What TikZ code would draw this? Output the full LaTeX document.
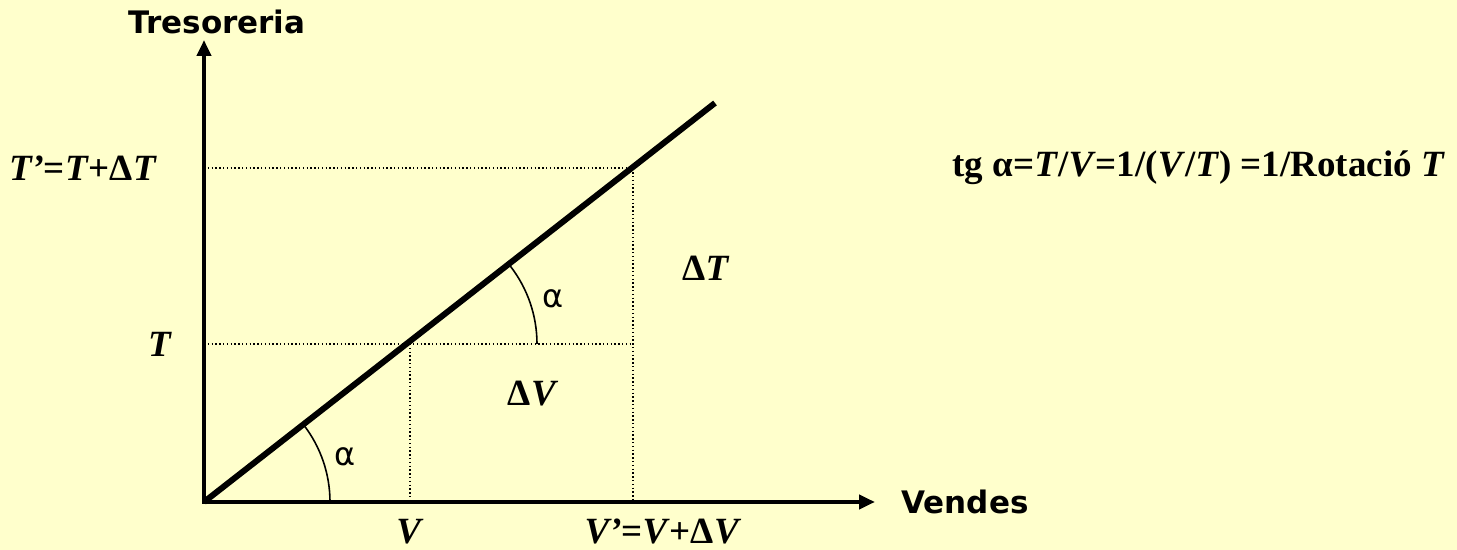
\documentclass[tikz,border=0pt]{standalone}
\usepackage{fontspec}
\setmainfont{Liberation Serif}
\newfontfamily\axisfont{DejaVu Sans}
\usepackage{xcolor}
\usepackage{tikz}
\usetikzlibrary{arrows.meta, calc}
\definecolor{ChartCream}{RGB}{255, 255, 204}
\definecolor{ChartInk}{RGB}{0, 0, 0}
\tikzset{
  axisline/.style={ChartInk, line width=2pt, {Triangle[length=8pt,width=7pt]}-{Triangle[length=8pt,width=7pt]}},
  rateline/.style={ChartInk, line width=3pt},
  guideline/.style={ChartInk, line width=0.7pt, dash pattern=on 0.7pt off 1.2pt},
  anglearc/.style={ChartInk, line width=0.8pt},
  mathlabel/.style={font=\fontsize{18.5}{21}\selectfont\bfseries},
  axislabel/.style={font=\axisfont\fontsize{15.5}{18}\selectfont\bfseries},
  anglelabel/.style={font=\axisfont\fontsize{16}{18}\selectfont},
}

\begin{document}
\begin{tikzpicture}[x=0.5pt,y=0.5pt]
  \path[use as bounding box] (0,0) rectangle (1457,550);
  \fill[ChartCream] (0,0) rectangle (1457,550);
  % axes and points
  \coordinate (O) at (204,48);
  \coordinate (ytip) at (204,510);
  \coordinate (xtip) at (875,48);
  \coordinate (lineend) at (715,447);
  \coordinate (A) at (410,206);
  \coordinate (B) at (633,382);
  \coordinate (Tone) at (204,206);
  \coordinate (Ttwo) at (204,382);
  \coordinate (Vone) at (410,48);
  \coordinate (Vtwo) at (633,48);
  % dotted guides
  \draw[guideline] (Ttwo) -- (B) -- (Vtwo);
  \draw[guideline] (Tone) -- (Tone -| Vtwo);
  \draw[guideline] (A) -- (Vone);
  \draw[axisline] (ytip) -- (O) -- (xtip);
  \draw[rateline] (O) -- (lineend);
  % angles
  \draw[anglearc] ($(O)+(126,0)$) arc[start angle=0, end angle=37.8, radius=126];
  \draw[anglearc] ($(A)+(127,0)$) arc[start angle=0, end angle=37.8, radius=127];
  % labels
  \node[axislabel] (tres) at (217,528) {Tresoreria};
  \node[axislabel] (vendes) at (965,48) {Vendes};
  \node[mathlabel, anchor=east] (tprime) at (164,382) {\textit{T’}=\textit{T}+Δ\textit{T}};
  \node[mathlabel] (tlab) at (160,206) {\textit{T}};
  \node[mathlabel] (vlab) at (410,18) {\textit{V}};
  \node[mathlabel] (vprime) at (663,19) {\textit{V’}=\textit{V}+Δ\textit{V}};
  \node[mathlabel] (dv) at (533,156) {Δ\textit{V}};
  \node[mathlabel] (dt) at (706,282) {Δ\textit{T}};
  \node[anglelabel] (alphaone) at (345,93) {α};
  \node[anglelabel] (alphatwo) at (553,251) {α};
  \node[mathlabel, anchor=east] (formula) at (1452,382) {tg α=\textit{T}/\textit{V}=1/(\textit{V}/\textit{T}) =1/Rotació \textit{T}};
\end{tikzpicture}
\end{document}
